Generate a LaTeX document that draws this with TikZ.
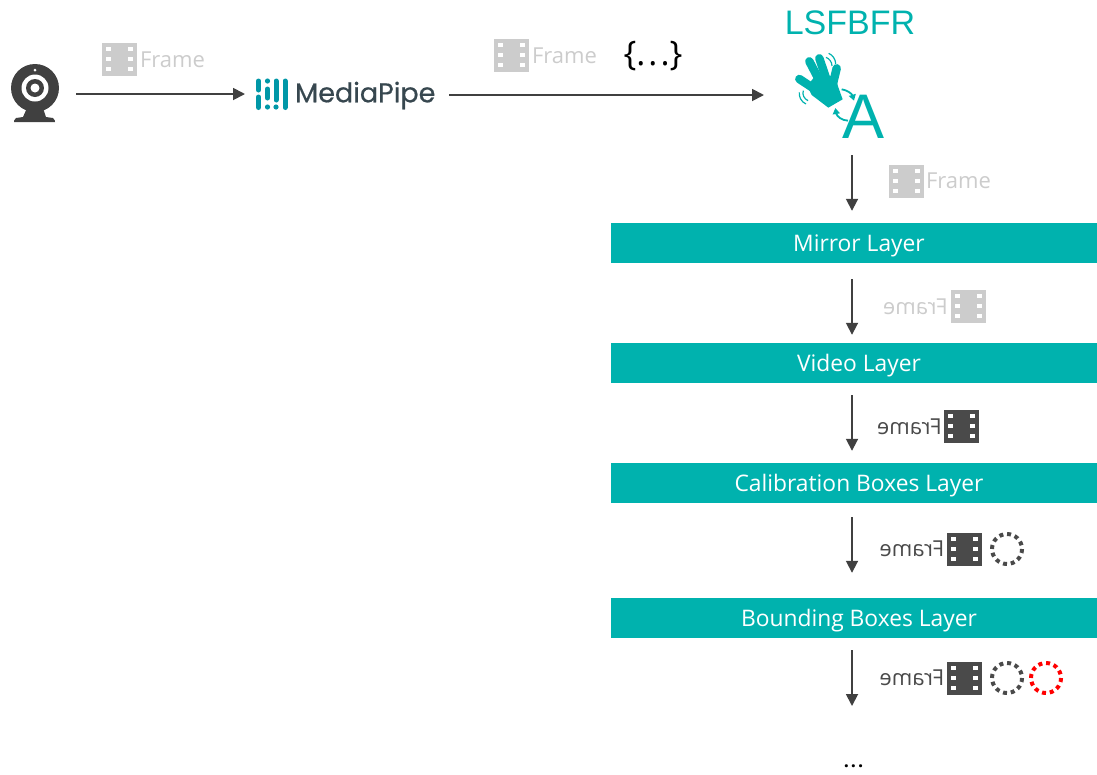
\documentclass[tikz,border=0pt]{standalone}
\usepackage{fontspec}
\setmainfont{Open Sans}
\newfontfamily\arialfont{Liberation Sans}
\newfontfamily\logofont[FakeBold=0.6]{Poppins}
\usetikzlibrary{arrows.meta}
\definecolor{lsfteal}{HTML}{00B2AE}
\definecolor{logoteal}{HTML}{0097A7}
\definecolor{logoslate}{HTML}{37474F}
\definecolor{flowgray}{HTML}{404040}
\definecolor{framelight}{HTML}{CCCCCC}
\definecolor{framedark}{HTML}{4A4A4A}
\tikzset{
	flow/.style={line width=1.8pt, draw=flowgray, -{Triangle[length=12pt,width=12pt]}},
	layerbox/.style={fill=lsfteal, text=white, minimum width=486pt, minimum height=40pt, inner sep=0pt, text height=16pt, text depth=0pt, font=\fontsize{22.8}{25}\selectfont},
	hotspot/.style={inner sep=0pt, outer sep=0pt},
	framelabel/.style={font=\fontsize{22}{24}\selectfont, inner sep=0pt},
	dotring/.style={line width=4pt, dash pattern=on 4pt off 3.85pt},
	handline/.style={line width=8.5pt, line cap=round, lsfteal},
	wave/.style={line width=1.2pt, lsfteal},
	turn/.style={line width=1.8pt, lsfteal, -{Triangle[length=6pt,width=7pt]}}
}
\begin{document}
\begin{tikzpicture}[x=1pt,y=-1pt]
	\useasboundingbox (0,0) rectangle (1097,774);

	\node [hotspot, minimum width=82pt, minimum height=60pt] (webcam) at (35,94) {};
	\fill [flowgray] (35,88) circle (24);
	\fill [flowgray] (27,108) -- (43,108) -- (46,117) -- (53,118) .. controls (55,119) and (55,122) .. (55,122) -- (14,122) .. controls (14,122) and (14,119) .. (16,118) -- (23,117) -- cycle;
	\fill [white] (35,88) circle (13.5);
	\fill [flowgray] (35,88) circle (9);
	\fill [white] (35,88) circle (4.5);
	\fill [white] (35,70) circle (1.5);

	\node [hotspot, minimum width=204pt, minimum height=40pt] (mediapipe) at (347,95) {};
	\node [hotspot, anchor=west, text=logoslate] (mediapipe text) at (295,95.5) {\logofont\fontsize{27}{30}\selectfont MediaPipe};
	\begin{scope}[line width=5pt, logoteal, line cap=round]
		\foreach \x/\a/\b in {258.5/81/90, 258.5/97/107.5, 267.5/89/98, 276/81/100, 285/81/107.5} {
			\draw (\x,\a) -- (\x,\b);
		}
		\foreach \x/\y in {267.5/81, 267.5/107, 276/107} {
			\fill (\x,\y) circle (2.6);
		}
	\end{scope}

	\node [hotspot, minimum width=176pt, minimum height=120pt] (lsfbfr) at (852,95) {};
	\node [hotspot, lsfteal] (lsfbfr title) at (850,23) {\arialfont\fontsize{34}{36}\selectfont LSFBFR};
	\node [hotspot, lsfteal] (lsfbfr letter) at (863.5,117) {\arialfont\fontsize{63}{65}\selectfont A};
	\begin{scope}[shift={(770,0)}, x=.3333pt, y=-.3333pt]
		\fill [lsfteal] (112,258) -- (135,228) -- (195,228) -- (205,262) -- (218,298) -- (175,323) -- (125,285) -- cycle;
		\draw [handline] (88,237) -- (135,268);
		\draw [handline] (118,184) -- (150,245);
		\draw [handline] (148,175) -- (170,240);
		\draw [handline] (200,205) -- (188,255);
		\draw [wave] (168,172) .. controls (178,176) and (186,186) .. (186,198);
		\draw [wave] (176,160) .. controls (188,165) and (197,178) .. (197,192);
		\draw [wave] (100,272) .. controls (96,284) and (102,296) .. (114,302);
		\draw [wave] (88,277) .. controls (86,290) and (94,306) .. (108,312);
		\draw [turn] (215,268) .. controls (232,270) and (246,282) .. (252,302);
		\draw [turn] (234,362) .. controls (215,362) and (200,348) .. (196,324);
	\end{scope}

	\node [layerbox] (mirror) at (854,243) {\hspace{10pt}Mirror Layer};
	\node [layerbox] (video) at (854,363) {\hspace{10pt}Video Layer};
	\node [layerbox] (calibration) at (854,483) {\hspace{10pt}Calibration Boxes Layer};
	\node [layerbox] (bounding) at (854,618) {\hspace{10pt}Bounding Boxes Layer};
	\node [hotspot, font=\bfseries\fontsize{18}{20}\selectfont] (more) at (853.5,766) {.\hspace{2pt}.\hspace{2pt}.};
	\coordinate (more top) at (852,706);

	\draw [flow] (webcam.east) -- (webcam.east -| mediapipe.west);
	\draw [flow] (mediapipe.east) -- (lsfbfr.west);
	\draw [flow, shorten >=12pt] (lsfbfr.south) -- (lsfbfr.south |- mirror.north);
	\foreach \from/\to/\gapa/\gapb in {mirror/video/16/8, video/calibration/12/12, calibration/bounding/14/25} {
		\draw [flow, shorten <=\gapa pt, shorten >=\gapb pt] ([xshift=-2pt]\from.south) -- ([xshift=-2pt]\to.north);
	}
	\draw [flow, shorten <=12pt] ([xshift=-2pt]bounding.south) -- (more top);

	\foreach \x/\y/\col in {119/59/framelight, 511/55/framelight, 906/181/framelight, 968/306/framelight, 961/426/framedark, 964/549/framedark, 964/678/framedark} {
		\fill [\col] (\x-17.5,\y-16.5) rectangle (\x+17.5,\y+16.5);
		\foreach \dx in {-11,11} {
			\foreach \dy in {-10,0,10} {
				\fill [white] (\x+\dx-2.5,\y+\dy-2) rectangle (\x+\dx+2.5,\y+\dy+2);
			}
		}
	}
	\node [framelabel, text=framelight] (frame a) at (172.5,59.7) {Frame};
	\node [framelabel, text=framelight] (frame b) at (564.5,55.7) {Frame};
	\node [framelabel, text=framelight] (frame c) at (958.5,180.7) {Frame};
	\node [framelabel, text=framelight] (frame d) at (915.5,306.7) {\reflectbox{Frame}};
	\node [framelabel, text=framedark] (frame e) at (909.5,426.7) {\reflectbox{Frame}};
	\node [framelabel, text=framedark] (frame f) at (912,549) {\reflectbox{Frame}};
	\node [framelabel, text=framedark] (frame g) at (912,678) {\reflectbox{Frame}};
	\node [hotspot, font=\fontsize{34}{36}\selectfont] (fields) at (653,56) {\{.\hspace{3pt}.\hspace{3pt}.\}};

	\draw [dotring, framedark] (1007,549) circle (15);
	\draw [dotring, framedark] (1007,678) circle (15);
	\draw [dotring, red] (1046,678) circle (15);
\end{tikzpicture}
\end{document}
